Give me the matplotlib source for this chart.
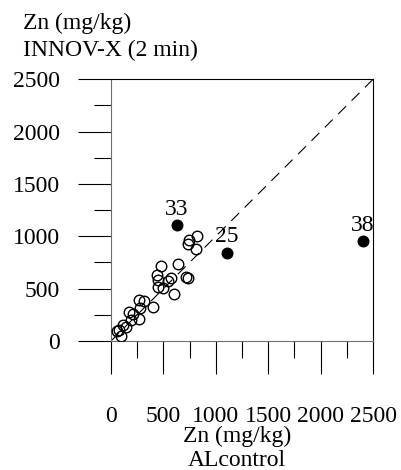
import matplotlib
matplotlib.use('Agg')
import matplotlib.pyplot as plt
from matplotlib.ticker import MultipleLocator

# Zn values: ALcontrol (x) vs INNOV-X 2 min (y)
alcontrol = [54, 91, 72, 110, 143, 175, 207, 191, 270, 277, 270, 315, 404,
             451, 499, 601, 436, 451, 474, 544, 573, 636, 716, 738, 818,
             747, 738, 811]
innovx = [96, 48, 105, 153, 134, 274, 255, 201, 210, 318, 392, 382, 328,
          519, 503, 446, 630, 583, 716, 573, 599, 735, 608, 599, 1003,
          965, 926, 876]

# Outliers, drawn filled and labelled with sample number
out_labels = ['33', '25', '38']
out_x = [627, 1104, 2402]
out_y = [1108, 843, 955]

ticks = [0, 500, 1000, 1500, 2000, 2500]

plt.rcParams['font.family'] = ['Liberation Serif', 'DejaVu Serif']
plt.rcParams['font.size'] = 17

fig = plt.figure(figsize=(4.02, 4.70), dpi=100)
ax = fig.add_axes([0.2761, 0.2745, 0.6518, 0.5568])

# 1:1 line
ax.plot([0, 2500], [0, 2500], color='black', linewidth=0.8,
        dashes=(10, 7), zorder=1)

ax.plot(alcontrol, innovx, linestyle='none', marker='o', markersize=7.6,
        markerfacecolor='none', markeredgecolor='black',
        markeredgewidth=1.0, zorder=3)
ax.plot(out_x, out_y, linestyle='none', marker='o', markersize=7.6,
        color='black', zorder=3)
for lab, x, y in zip(out_labels, out_x, out_y):
    ax.annotate(lab, (x, y), xytext=(0, 7.5), textcoords='offset points',
                ha='center', va='baseline', fontsize=17)

ax.set_xlim(0, 2500)
ax.set_ylim(0, 2500)
ax.set_xticks(ticks)
ax.set_yticks(ticks)
ax.xaxis.set_minor_locator(MultipleLocator(250))
ax.yaxis.set_minor_locator(MultipleLocator(250))
ax.tick_params(which='major', direction='out', length=24, width=0.8,
               color='black', labelsize=17)
ax.tick_params(axis='x', which='major', pad=23)
ax.tick_params(axis='y', which='major', pad=13)
ax.tick_params(which='minor', direction='out', length=12, width=0.8,
               color='black')
for s in ax.spines.values():
    s.set_linewidth(0.8)
ax.spines['left'].set_color('#707070')
ax.spines['bottom'].set_color('#707070')

# Axis titles
fig.text(23 / 402, 1 - 13 / 470, 'Zn (mg/kg)\nINNOV-X (2 min)',
         ha='left', va='top', fontsize=17, linespacing=1.35)
fig.text(237 / 402, 1 - 426 / 470, 'Zn (mg/kg)\nALcontrol',
         ha='center', va='top', fontsize=17, linespacing=1.2)

fig.savefig('out.png', dpi=100)
